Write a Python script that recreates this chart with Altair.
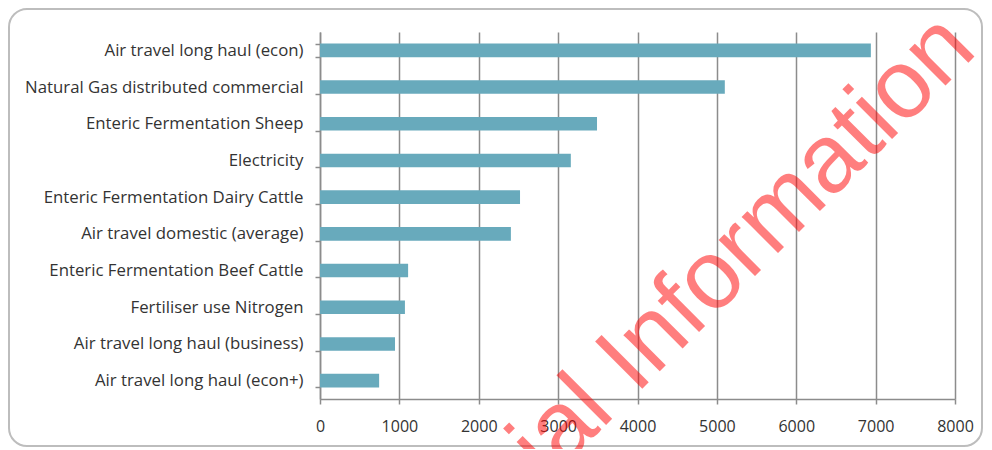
import altair as alt
import pandas as pd

categories = [
    "Air travel long haul (econ)",
    "Natural Gas distributed commercial",
    "Enteric Fermentation Sheep",
    "Electricity",
    "Enteric Fermentation Dairy Cattle",
    "Air travel domestic (average)",
    "Enteric Fermentation Beef Cattle",
    "Fertiliser use Nitrogen",
    "Air travel long haul (business)",
    "Air travel long haul (econ+)",
]
values = [6940, 5100, 3490, 3160, 2520, 2405, 1110, 1070, 945, 745]
x_ticks = [0, 1000, 2000, 3000, 4000, 5000, 6000, 7000, 8000]
# watermark: only the part visible in the reference
watermark = ["ial Information"]

df = pd.DataFrame({"category": categories, "value": values})

GRID = "#8c8c8c"
LABEL = "#333333"

bars = alt.Chart(df).mark_bar(color="#68aabc").encode(
    x=alt.X(
        "value:Q",
        scale=alt.Scale(domain=[0, 8000], nice=False),
        axis=alt.Axis(
            values=x_ticks, title=None, grid=True, gridColor=GRID, gridWidth=1.5,
            domainColor=GRID, domainWidth=1.5, tickColor=GRID, tickWidth=1.5, tickSize=5,
            labelFont="Open Sans", labelFontSize=16, labelColor=LABEL,
            labelPadding=14, format="d", labelFlush=False,
        ),
    ),
    y=alt.Y(
        "category:N",
        sort=categories,
        scale=alt.Scale(paddingInner=0.63, paddingOuter=0.315),
        axis=alt.Axis(
            title=None, tickBand="extent", ticks=True, tickSize=5, tickColor=GRID,
            tickWidth=1.5, domainColor=GRID, domainWidth=1.5,
            labelFont="Open Sans", labelFontSize=16.8, labelColor=LABEL,
            labelPadding=12, labelLimit=400,
        ),
    ),
)

frame = alt.Chart(pd.DataFrame({"a": [0]})).mark_rect(
    fillOpacity=0, stroke="#bdbdbd", strokeWidth=2, cornerRadius=18
).encode(
    x=alt.value(-311), x2=alt.value(662), y=alt.value(-23), y2=alt.value(414)
)

wm = alt.Chart(pd.DataFrame({"t": watermark})).mark_text(
    angle=315, align="right", baseline="alphabetic", font="Liberation Sans",
    fontSize=97, color="#ff0000", opacity=0.5,
).encode(text="t:N", x=alt.value(659), y=alt.value(20))

chart = alt.layer(frame, bars, wm).properties(
    width=635,
    height=367,
    autosize=alt.AutoSizeParams(type="none"),
    padding={"left": 312, "top": 24, "right": 29, "bottom": 50},
).configure_view(strokeOpacity=0)

chart.save("out.html", embed_options={"renderer": "svg", "actions": False})
